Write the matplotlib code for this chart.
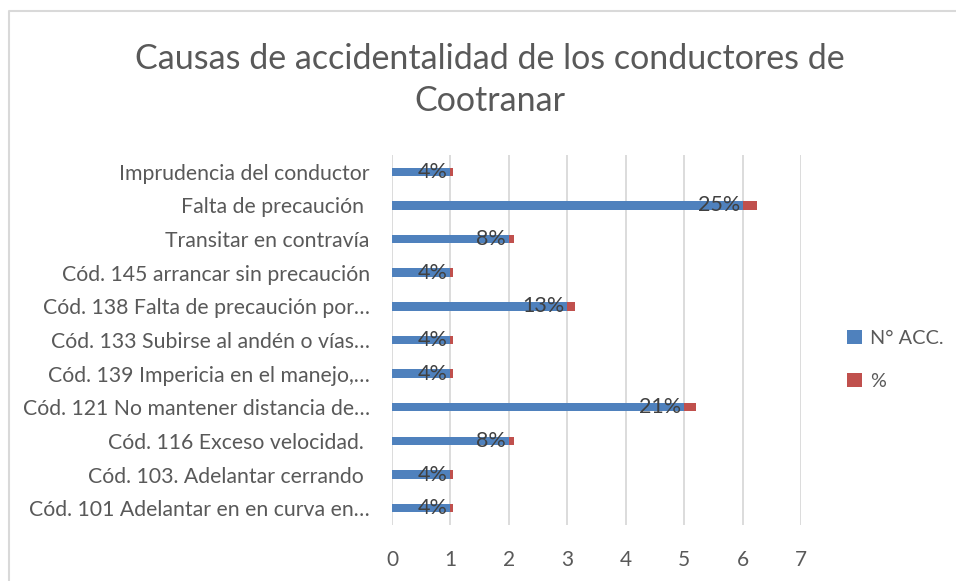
import matplotlib
matplotlib.use("Agg")
import matplotlib.pyplot as plt
import numpy as np

plt.rcParams['font.family'] = ['Lato', 'DejaVu Sans']

causas = ["Imprudencia del conductor",
          "Falta de precaución ",
          "Transitar en contravía",
          "Cód. 145 arrancar sin precaución",
          "Cód. 138 Falta de precaución por…",
          "Cód. 133 Subirse al andén o vías…",
          "Cód. 139 Impericia en el manejo,…",
          "Cód. 121 No mantener distancia de…",
          "Cód. 116 Exceso velocidad. ",
          "Cód. 103. Adelantar cerrando ",
          "Cód. 101 Adelantar en en curva en…"]
n_acc = [1, 6, 2, 1, 3, 1, 1, 5, 2, 1, 1]
pct = [0.04, 0.25, 0.08, 0.04, 0.13, 0.04, 0.04, 0.21, 0.08, 0.04, 0.04]
pct_labels = ["4%", "25%", "8%", "4%", "13%", "4%", "4%", "21%", "8%", "4%", "4%"]

azul = "#4f81bd"
rojo = "#c0504d"
gris_txt = "#595959"

fig = plt.figure(figsize=(9.56, 5.81), dpi=100)
ax = fig.add_axes([0.410, 0.0964, 0.428, 0.637])

y = np.arange(len(causas))
ax.barh(y, n_acc, height=0.25, color=azul, label="N° ACC.", zorder=3)
ax.barh(y, pct, left=n_acc, height=0.25, color=rojo, label="%", zorder=3)

for yi, n, t in zip(y, n_acc, pct_labels):
    ax.annotate(t, (n, yi), xytext=(-2, 0), textcoords="offset points",
                ha="right", va="center", fontsize=15.5, color="#404040", zorder=4)

ax.set_xlim(0, 7)
ax.set_ylim(len(causas) - 0.5, -0.5)
ax.set_yticks(y)
ax.set_yticklabels(causas, fontsize=15.3, color=gris_txt)
ax.set_xticks(range(8))
ax.tick_params(axis="x", labelsize=15, labelcolor=gris_txt, length=0, pad=18)
ax.tick_params(axis="y", length=0, pad=16)
ax.grid(axis="x", color="#d9d9d9", linewidth=1.3, zorder=0)
for s in ax.spines.values():
    s.set_visible(False)

fig.text(0.512, 0.862, "Causas de accidentalidad de los conductores de\nCootranar",
         ha="center", va="center", fontsize=24.5, color=gris_txt,
         linespacing=1.4)

leg = fig.legend(loc="center left", bbox_to_anchor=(0.886, 0.381), frameon=False,
                 fontsize=14.3, handlelength=0.75, handleheight=0.75,
                 handletextpad=0.4, labelspacing=1.3, borderaxespad=0,
                 borderpad=0)
for t in leg.get_texts():
    t.set_color(gris_txt)

# borde del área del gráfico
fig.add_artist(plt.Line2D([0.009, 0.009, 1.0], [0.0, 0.981, 0.981],
                          transform=fig.transFigure, color="#d9d9d9", linewidth=1.5))

fig.savefig("out.png", dpi=100)
